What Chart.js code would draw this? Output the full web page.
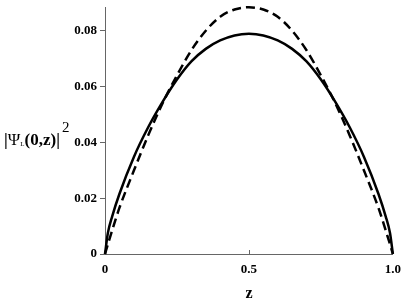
<!DOCTYPE html>
<html>
<head>
<meta charset="utf-8">
<script src="https://cdn.jsdelivr.net/npm/chart.js@4/dist/chart.umd.min.js"></script>
<style>
    html, body { margin: 0; padding: 0; background: #fff; }
    #wrap { position: relative; width: 409px; height: 300px; }
    #yTitle {
        position: absolute; left: 4px; top: 131px;
        font-family: "Liberation Serif", "Times New Roman", serif; font-weight: bold; font-size: 17px;
        color: #000; white-space: nowrap; line-height: 17px;
    }
    #yTitle .psi { font-weight: normal; }
    #yTitle sub { font-size: 7px; vertical-align: -1px; font-weight: normal; }
    #yTitle sup { font-size: 15px; font-weight: normal; position: relative; top: -13px; vertical-align: baseline; margin-left: 2px; }
</style>
</head>
<body>
<div id="wrap">
    <canvas id="chart" width="409" height="300"></canvas>
    <div id="yTitle">|<span class="psi">Ψ</span><sub>L</sub>(0,z)|<sup>2</sup></div>
</div>
<script>
const zValues = [0, 0.01, 0.025, 0.05, 0.1, 0.15, 0.2, 0.25, 0.3, 0.35, 0.4, 0.45, 0.5,
    0.55, 0.6, 0.65, 0.7, 0.75, 0.8, 0.85, 0.9, 0.95, 0.975, 0.99, 1];
const solidValues = [0, 0.0075, 0.0135, 0.0215, 0.0347, 0.0454, 0.0545, 0.0625, 0.0690, 0.0735, 0.0765, 0.0783, 0.0789,
    0.0783, 0.0765, 0.0735, 0.0690, 0.0625, 0.0545, 0.0454, 0.0347, 0.0215, 0.0135, 0.0075, 0];
const dashedValues = [0, 0.0035, 0.0085, 0.0165, 0.0298, 0.0425, 0.0540, 0.0640, 0.0730, 0.0800, 0.0850, 0.0876, 0.0884,
    0.0876, 0.0850, 0.0800, 0.0730, 0.0640, 0.0540, 0.0425, 0.0298, 0.0165, 0.0085, 0.0035, 0];
const xTicks = [0, 0.5, 1];
const xTickLabels = ['0', '0.5', '1.0'];
const yTicks = [0, 0.02, 0.04, 0.06, 0.08];
const yTickLabels = ['0', '0.02', '0.04', '0.06', '0.08'];

const serifFamily = '"Liberation Serif", "Times New Roman", serif';
const axisColor = '#666';

// small inward tick marks on the x axis, as in the original
const innerTicks = {
    id: 'innerTicks',
    afterDraw(chart) {
        const { ctx, scales: { x }, chartArea } = chart;
        ctx.save();
        ctx.strokeStyle = axisColor;
        ctx.lineWidth = 1;
        xTicks.slice(1, -1).forEach(v => {
            const px = Math.round(x.getPixelForValue(v)) + 0.5;
            ctx.beginPath();
            ctx.moveTo(px, chartArea.bottom);
            ctx.lineTo(px, chartArea.bottom - 4);
            ctx.stroke();
        });
        ctx.restore();
    }
};

const toPoints = vals => zValues.map((z, i) => ({ x: z, y: vals[i] }));

new Chart(document.getElementById('chart'), {
    type: 'line',
    data: {
        datasets: [
            {
                data: toPoints(solidValues),
                borderColor: '#000',
                borderWidth: 2.5,
                pointRadius: 0,
                cubicInterpolationMode: 'monotone',
                fill: false
            },
            {
                data: toPoints(dashedValues),
                borderColor: '#000',
                borderWidth: 2.5,
                borderDash: [9, 5],
                pointRadius: 0,
                cubicInterpolationMode: 'monotone',
                fill: false
            }
        ]
    },
    options: {
        responsive: false,
        animation: false,
        clip: false,
        layout: { padding: { left: 0, right: 12, top: 7, bottom: 0 } },
        plugins: { legend: { display: false }, tooltip: { enabled: false } },
        scales: {
            x: {
                type: 'linear',
                min: 0,
                max: 1,
                afterBuildTicks: s => { s.ticks = xTicks.map(v => ({ value: v })); },
                afterFit: s => { s.height = 46; },
                grid: { display: false, drawTicks: false },
                border: { color: axisColor, width: 1 },
                ticks: {
                    color: '#000',
                    font: { family: serifFamily, weight: 'bold', size: 13 },
                    padding: 8,
                    maxRotation: 0,
                    callback: v => xTickLabels[xTicks.indexOf(v)]
                },
                title: {
                    display: true,
                    text: 'z',
                    color: '#000',
                    font: { family: serifFamily, weight: 'bold', size: 16 },
                    padding: { top: 0, bottom: -3 }
                }
            },
            y: {
                type: 'linear',
                min: 0,
                max: 0.0885,
                afterBuildTicks: s => { s.ticks = yTicks.map(v => ({ value: v })); },
                afterFit: s => { s.width = 105; },
                grid: { drawOnChartArea: false, drawTicks: true, tickLength: 5, color: axisColor },
                border: { color: axisColor, width: 1 },
                ticks: {
                    color: '#000',
                    font: { family: serifFamily, weight: 'bold', size: 13, lineHeight: 0.6 },
                    padding: 3,
                    callback: v => yTickLabels[yTicks.indexOf(v)]
                }
            }
        }
    },
    plugins: [innerTicks]
});
</script>
</body>
</html>
